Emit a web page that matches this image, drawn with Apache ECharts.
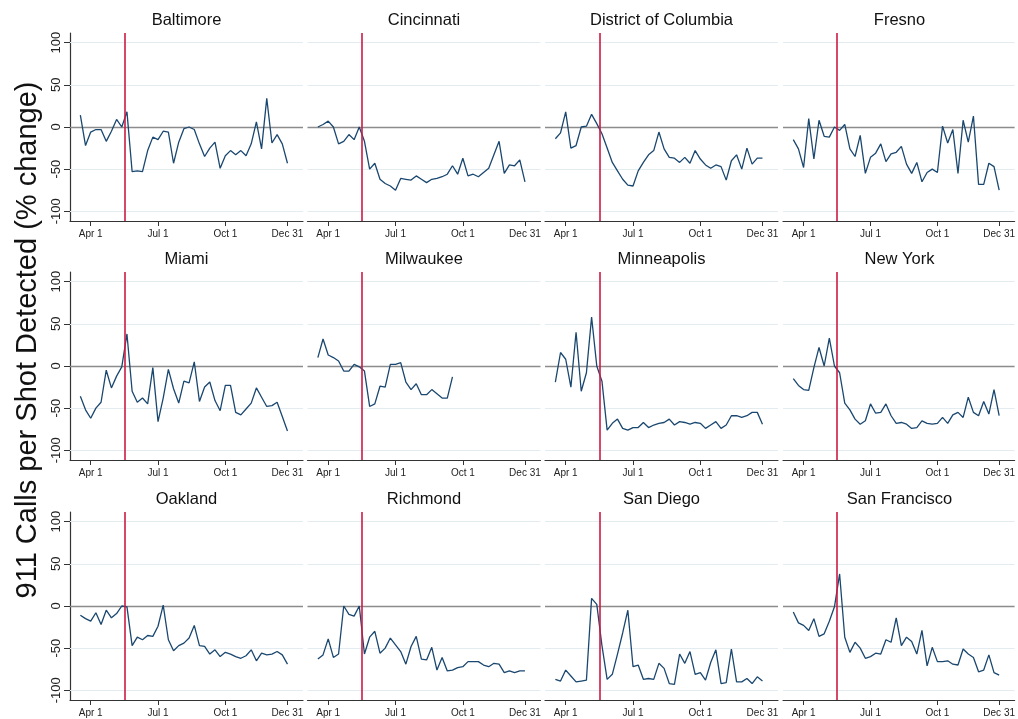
<!DOCTYPE html>
<html>
<head>
<meta charset="utf-8">
<script src="https://cdn.jsdelivr.net/npm/echarts@6/dist/echarts.min.js"></script>
<style>
  html, body { margin: 0; padding: 0; background: #ffffff; }
  #chart { width: 1018px; height: 719px; }
</style>
</head>
<body>
<div id="chart"></div>
<script>
// Weekly % change in 911 calls per ShotSpotter detection, by city (weeks 12-52 of 2020)
const cities = ['Baltimore', 'Cincinnati', 'District of Columbia', 'Fresno',
                'Miami', 'Milwaukee', 'Minneapolis', 'New York',
                'Oakland', 'Richmond', 'San Diego', 'San Francisco'];
const firstWeek = 12;

const baltimore = [14, -22, -6, -3, -3, -17, -5, 9, 0, 18, -53, -52, -53, -28, -12, -15, -5, -6, -43, -18,
  -2, 0, -3, -20, -35, -25, -18, -49, -34, -28, -33, -28, -34, -20, 6, -26, 34, -19, -9, -20, -43];
const cincinnati = [0, 3, 7, 0, -20, -17, -9, -15, 0, -17, -50, -43, -62, -67, -70, -75, -61, -62, -63, -58,
  -62, -66, -62, -61, -59, -56, -46, -56, -37, -58, -56, -59, -54, -49, -33, -17, -55, -45, -46, -39, -65];
const districtOfColumbia = [-14, -7, 18, -25, -22, 0, 1, 15, 4, -8, -25, -42, -52, -62, -69, -70, -52, -42, -33, -28,
  -6, -26, -36, -37, -42, -36, -43, -28, -38, -45, -49, -45, -47, -63, -40, -33, -50, -25, -44, -37, -37];
const fresno = [-15, -26, -48, 10, -38, 8, -11, -12, 0, -4, 3, -26, -35, -10, -55, -36, -31, -20, -41, -32,
  -30, -23, -44, -55, -42, -65, -54, -50, -54, 1, -19, -3, -55, 8, -18, 13, -68, -68, -43, -47, -75];
const miami = [-36, -52, -62, -50, -43, -5, -26, -12, -1, 38, -30, -43, -38, -45, -2, -66, -38, -4, -27, -44,
  -18, -20, 5, -42, -25, -19, -41, -53, -23, -23, -55, -58, -51, -44, -26, -37, -48, -47, -43, -60, -77];
const milwaukee = [10, 32, 13, 10, 6, -6, -6, 2, -1, -6, -48, -45, -24, -25, 2, 2, 4, -19, -28, -21,
  -34, -34, -28, -33, -38, -38, -13];
const minneapolis = [-19, 16, 8, -25, 40, -30, -8, 58, 0, -18, -76, -68, -63, -74, -76, -73, -73, -67, -73, -70,
  -68, -67, -63, -70, -66, -67, -69, -67, -68, -74, -70, -66, -74, -70, -59, -59, -61, -59, -55, -55, -69];
const newYork = [-15, -23, -28, -29, -2, 22, 0, 33, 0, -8, -44, -52, -63, -69, -65, -45, -56, -55, -45, -59,
  -68, -67, -69, -74, -73, -65, -68, -69, -68, -61, -68, -58, -55, -61, -37, -55, -59, -42, -57, -28, -59];
const oakland = [-11, -15, -18, -8, -22, -5, -14, -9, 0, -1, -47, -37, -40, -35, -36, -24, 1, -40, -53, -47,
  -44, -38, -23, -47, -48, -57, -52, -60, -55, -57, -60, -62, -59, -52, -65, -56, -58, -57, -54, -58, -69];
const richmond = [-63, -58, -39, -61, -57, 0, -10, -12, 0, -57, -37, -30, -56, -50, -38, -46, -54, -69, -48, -36,
  -63, -64, -49, -76, -61, -77, -76, -73, -72, -66, -66, -66, -70, -72, -68, -69, -79, -77, -79, -77, -77];
const sanDiego = [-87, -89, -76, -83, -90, -89, -88, 9, 2, -47, -87, -81, -57, -32, -5, -72, -70, -87, -86, -87,
  -68, -74, -92, -93, -57, -68, -54, -81, -79, -88, -67, -52, -92, -91, -51, -90, -90, -86, -92, -84, -89];
const sanFrancisco = [-7, -20, -23, -29, -15, -36, -33, -18, -1, 38, -37, -55, -43, -50, -62, -60, -56, -57, -40, -43,
  -14, -47, -37, -42, -57, -29, -71, -49, -66, -66, -65, -69, -70, -51, -57, -61, -78, -76, -58, -79, -82];

const seriesValues = [baltimore, cincinnati, districtOfColumbia, fresno,
                      miami, milwaukee, minneapolis, newYork,
                      oakland, richmond, sanDiego, sanFrancisco];

// Axis ticks: week numbers and their calendar labels
const weekTicks = [14, 27, 40, 52];
const weekTickLabels = ['Apr 1', 'Jul 1', 'Oct 1', 'Dec 31'];
const yTicks = [-100, -50, 0, 50, 100];
const gridValues = [-100, -50, 50, 100];
const eventWeek = 20.5;

// Panel layout
const colLeft = [70, 307.5, 545, 783];
const rowTop = [33, 272, 512];
const panelW = 233;
const panelH = 188;
const FONT = '"Liberation Sans", Arial, Helvetica, sans-serif';

const chart = echarts.init(document.getElementById('chart'), null, { renderer: 'canvas' });

const grids = [], xAxes = [], yAxes = [], series = [], graphics = [];

cities.forEach((city, i) => {
  const r = Math.floor(i / 4), c = i % 4;
  grids.push({ left: colLeft[c], top: rowTop[r], width: panelW, height: panelH });

  xAxes.push({
    type: 'value', gridIndex: i, min: 10, max: 55,
    axisLine: { show: true, onZero: false, lineStyle: { color: '#333', width: 1.2 } },
    axisTick: { show: true, customValues: weekTicks, length: 5, lineStyle: { color: '#333', width: 1 } },
    axisLabel: {
      show: true, customValues: weekTicks, margin: 8, fontSize: 10, color: '#222', fontFamily: FONT,
      formatter: v => weekTickLabels[weekTicks.indexOf(v)] || ''
    },
    splitLine: { show: false }
  });

  yAxes.push({
    type: 'value', gridIndex: i, min: -111.5, max: 111.5,
    axisLine: { show: c === 0, onZero: false, lineStyle: { color: '#333', width: 1.2 } },
    axisTick: { show: c === 0, customValues: yTicks, length: 6, lineStyle: { color: '#333', width: 1 } },
    axisLabel: {
      show: c === 0, customValues: yTicks, rotate: 90, margin: 7, fontSize: 13, color: '#222', fontFamily: FONT
    },
    splitLine: { show: false }
  });

  // Reference lines behind the data: light gridlines and the zero line
  const refLines = gridValues.map(v => ({ yAxis: v, lineStyle: { color: '#e3ecf0', width: 1, type: 'solid' } }));
  refLines.push({ yAxis: 0, lineStyle: { color: '#8c8c8c', width: 1.3, type: 'solid' } });
  series.push({
    type: 'line', xAxisIndex: i, yAxisIndex: i, data: [], z: 1,
    markLine: { silent: true, z: 1, symbol: 'none', label: { show: false }, animation: false, data: refLines }
  });

  series.push({
    type: 'line', xAxisIndex: i, yAxisIndex: i, z: 3,
    data: seriesValues[i].map((v, k) => [firstWeek + k, v]),
    symbol: 'none', smooth: false,
    lineStyle: { color: '#1a476f', width: 1.3 },
    markLine: {
      silent: true, z: 4, symbol: 'none', label: { show: false }, animation: false,
      data: [{ xAxis: eventWeek, lineStyle: { color: '#cc1b44', width: 1.6, type: 'solid' } }]
    }
  });

  graphics.push({
    type: 'text',
    x: colLeft[c] + panelW / 2, y: rowTop[r] - 13,
    style: { text: city, fontSize: 16.5, fontFamily: FONT, fill: '#111', textAlign: 'center', textVerticalAlign: 'middle' }
  });
});

graphics.push({
  type: 'text', x: 28, y: 340, rotation: Math.PI / 2,
  style: {
    text: '911 Calls per Shot Detected (% change)', fontSize: 29, fontFamily: FONT, fill: '#111',
    textAlign: 'center', textVerticalAlign: 'middle'
  }
});

chart.setOption({
  animation: false,
  backgroundColor: '#ffffff',
  grid: grids,
  xAxis: xAxes,
  yAxis: yAxes,
  series: series,
  graphic: graphics
});
</script>
</body>
</html>
